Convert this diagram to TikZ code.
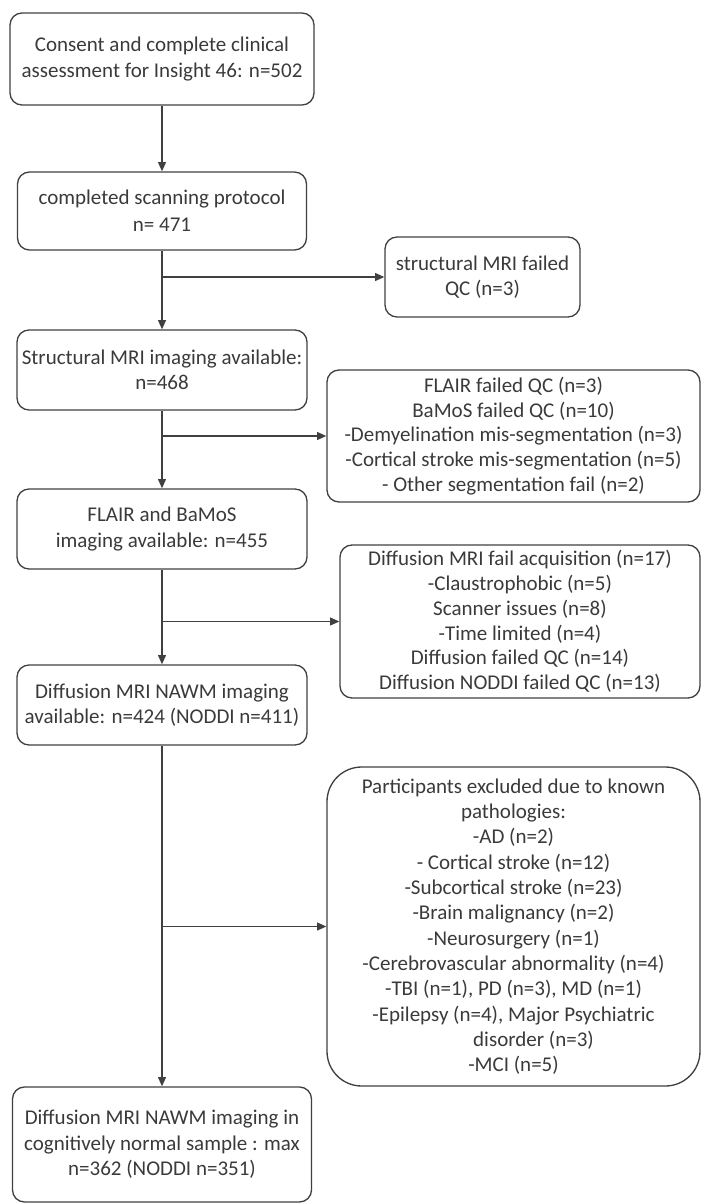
\documentclass[tikz,border=0pt]{standalone}
\usepackage{fontspec}
\setmainfont{Carlito}
\usetikzlibrary{arrows.meta}
\definecolor{ink}{HTML}{3A3A3A}
\definecolor{edge}{HTML}{404040}
\begin{document}
\begin{tikzpicture}[x=0.75pt,y=-0.75pt,
  box/.style={draw=edge, line width=1pt, rounded corners=9pt, text=ink, align=center, inner sep=0pt,
    font=\fontsize{15.75pt}{19pt}\selectfont},
  conn/.style={draw=edge, line width=1pt},
  arr/.style={conn, -{Triangle[length=7pt,width=6pt]}}]
\useasboundingbox (0,0) rectangle (702,1203);

\node[box, minimum width=228pt, minimum height=69pt, font=\fontsize{15.75pt}{20pt}\selectfont] (b1) at (162,59)
  {Consent and complete clinical\\assessment for Insight 46: n=502};
\node[box, minimum width=216.75pt, minimum height=58.5pt, font=\fontsize{15.75pt}{20pt}\selectfont] (b2) at (162,211)
  {completed scanning protocol\\n= 471};
\node[box, minimum width=146.25pt, minimum height=60pt] (f1) at (482.5,277)
  {structural MRI failed\\QC (n=3)};
\node[box, minimum width=217.5pt, minimum height=60pt] (b3) at (162,370)
  {Structural MRI imaging available:\\n=468};
\node[box, minimum width=279.75pt, minimum height=99pt, font=\fontsize{15.75pt}{18.5pt}\selectfont] (f2) at (513.5,436)
  {FLAIR failed QC (n=3)\\BaMoS failed QC (n=10)\\-Demyelination mis-segmentation (n=3)\\-Cortical stroke mis-segmentation (n=5)\\- Other segmentation fail (n=2)};
\node[box, minimum width=217.5pt, minimum height=60pt] (b4) at (162,529)
  {FLAIR and BaMoS\\imaging available: n=455};
\node[box, minimum width=270pt, minimum height=114.75pt, font=\fontsize{15.75pt}{18.6pt}\selectfont] (f3) at (520,621.5)
  {Diffusion MRI fail acquisition (n=17)\\-Claustrophobic (n=5)\\Scanner issues (n=8)\\-Time limited (n=4)\\Diffusion failed QC (n=14)\\Diffusion NODDI failed QC (n=13)};
\node[box, minimum width=217.5pt, minimum height=60pt] (b5) at (162,705)
  {Diffusion MRI NAWM imaging\\available: n=424 (NODDI n=411)};
\node[box, rounded corners=26pt, minimum width=279.75pt, minimum height=239.25pt] (f4) at (513.5,926.5)
  {Participants excluded due to known\\pathologies:\\-AD (n=2)\\- Cortical stroke (n=12)\\-Subcortical stroke (n=23)\\-Brain malignancy (n=2)\\-Neurosurgery (n=1)\\-Cerebrovascular abnormality (n=4)\\-TBI (n=1), PD (n=3), MD (n=1)\\-Epilepsy (n=4), Major Psychiatric\\\hspace*{30pt}disorder (n=3)\\-MCI (n=5)};
\node[box, minimum width=224.25pt, minimum height=86.25pt] (b6) at (162,1144.5)
  {Diffusion MRI NAWM imaging in\\cognitively normal sample : max\\n=362 (NODDI n=351)};

\draw[arr] (b1.south) -- (b2.north);
\draw[arr] (b2.south) -- (b3.north);
\draw[arr] (b2.south |- f1.west) -- (f1.west);
\draw[arr] (b3.south) -- (b4.north);
\draw[arr] (b3.south |- f2.west) -- (f2.west);
\draw[arr] (b4.south) -- (b5.north);
\draw[arr] (b4.south |- f3.west) -- (f3.west);
\draw[arr] (b5.south) -- (b6.north);
\draw[arr] (b5.south |- f4.west) -- (f4.west);
\end{tikzpicture}
\end{document}
